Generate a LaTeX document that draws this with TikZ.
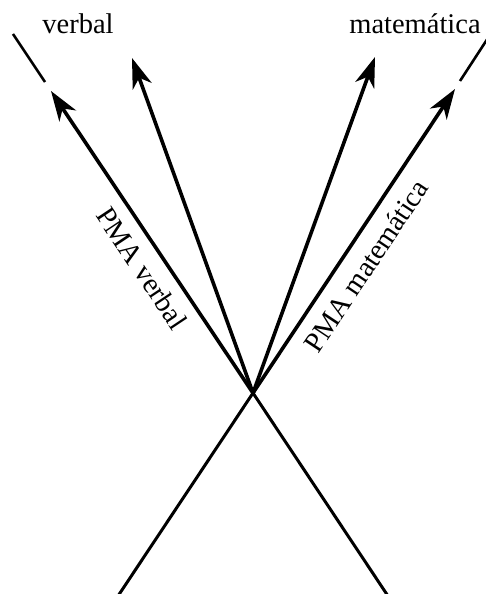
\documentclass[tikz,border=0pt]{standalone}
\usepackage{fontspec}
\setmainfont{Liberation Serif}
\usetikzlibrary{arrows.meta}
\begin{document}
\begin{tikzpicture}[x=1pt,y=-1pt,
  axis/.style={line width=3pt},
  vec/.style={line width=3.6pt,-{Stealth[length=30pt,width=20pt,inset=9pt]}},
  tail/.style={line width=2.6pt},
  lab/.style={font=\fontsize{28.5}{30}\selectfont,inner sep=0pt}]
\useasboundingbox (0,0) rectangle (486,594);
\coordinate (O) at (253,393);
\coordinate (bl) at (118,596);
\coordinate (br) at (388,596);
\coordinate (tipL) at (51,91);
\coordinate (tipR) at (455,89);
\coordinate (inL) at (132,58);
\coordinate (inR) at (375,57);
\coordinate (tLa) at (45,82);
\coordinate (tLb) at (13,34);
\coordinate (tRa) at (460,81);
\coordinate (tRb) at (488,38);
\draw[axis] (bl) -- (O);
\draw[axis] (br) -- (O);
\draw[vec] (O) -- (tipL);
\draw[vec] (O) -- (tipR);
\draw[vec] (O) -- (inL);
\draw[vec] (O) -- (inR);
\draw[tail] (tLa) -- (tLb);
\draw[tail] (tRa) -- (tRb);
\node[lab] (verbal) at (78,24) {verbal};
\node[lab] (mat) at (415,24) {matemática};
\node[lab,rotate=-56.3] (pmav) at (142,268) {PMA verbal};
\node[lab,rotate=56.3] (pmam) at (366,266) {PMA matemática};
\end{tikzpicture}
\end{document}
